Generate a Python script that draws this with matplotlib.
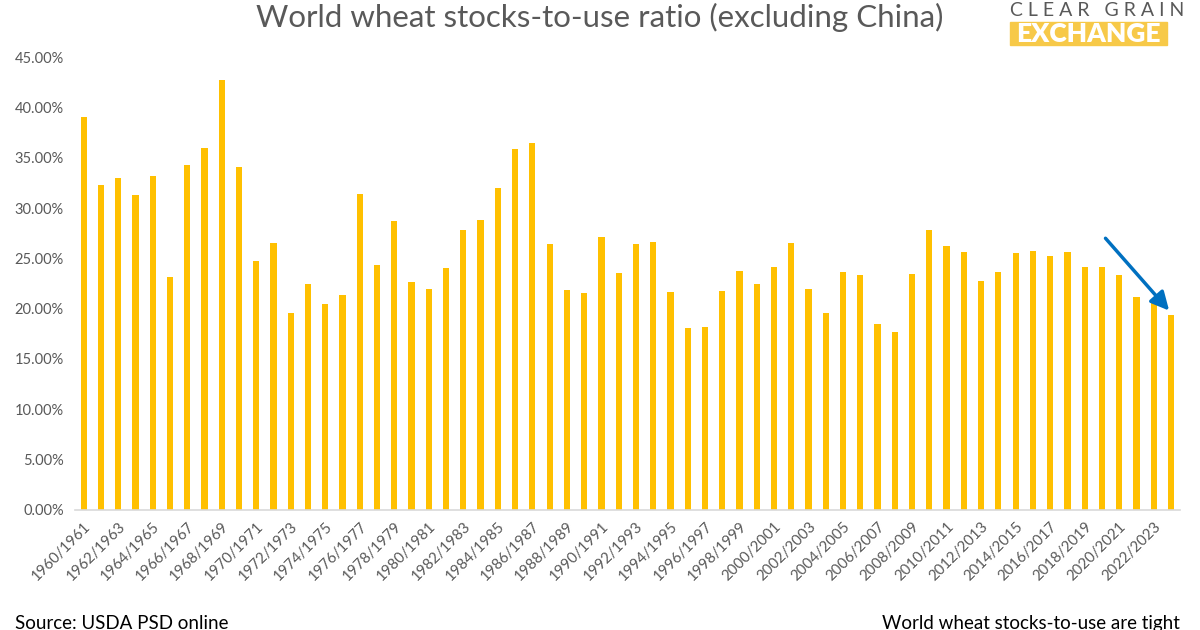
import matplotlib.pyplot as plt
from matplotlib.patches import Rectangle

plt.rcParams['font.family'] = ['Lato', 'DejaVu Sans']

# marketing years 1960/1961 .. 2023/2024
start_years = list(range(1960, 2024))
seasons = [f"{y}/{y + 1}" for y in start_years]

# stocks-to-use ratio, %
ratio = [
    39.0, 32.3, 33.0, 31.3, 33.2, 23.1, 34.3, 36.0, 42.7, 34.1,
    24.7, 26.5, 19.6, 22.5, 20.5, 21.4, 31.4, 24.3, 28.7, 22.6,
    22.0, 24.0, 27.8, 28.8, 32.0, 35.9, 36.5, 26.4, 21.9, 21.6,
    27.1, 23.5, 26.4, 26.6, 21.7, 18.1, 18.2, 21.8, 23.7, 22.5,
    24.1, 26.5, 22.0, 19.6, 23.6, 23.3, 18.5, 17.7, 23.4, 27.8,
    26.2, 25.6, 22.7, 23.6, 25.5, 25.7, 25.2, 25.6, 24.1, 24.1,
    23.3, 21.2, 20.6, 19.4,
]
y_ticks = [0, 5, 10, 15, 20, 25, 30, 35, 40, 45]

grey = '#595959'
fig = plt.figure(figsize=(12, 6.3), dpi=100)
ax = fig.add_axes([0.0625, 0.1905, 0.9205, 0.719])

x = list(range(len(ratio)))
ax.bar(x, ratio, width=0.36, color='#FFC000', zorder=2)

ax.set_xlim(-0.5, len(ratio) - 0.5)
ax.set_ylim(0, 45)
ax.set_yticks(y_ticks)
ax.set_yticklabels([f"{v:.2f}%" for v in y_ticks], fontsize=10.5, color=grey)
ax.set_xticks(x[::2])
ax.set_xticklabels(seasons[::2], rotation=45, ha='right', rotation_mode='anchor',
                   fontsize=10.8, color=grey)
ax.tick_params(length=0, pad=7)
ax.tick_params(axis='y', pad=8)
for s in ['top', 'right', 'left']:
    ax.spines[s].set_visible(False)
ax.spines['bottom'].set_color('#D9D9D9')
ax.spines['bottom'].set_linewidth(1.2)

# arrow pointing at latest season
ax.annotate('', xy=(63.0, 19.6), xytext=(59.1, 27.2),
            arrowprops=dict(arrowstyle='-|>,head_length=1.1,head_width=0.55',
                            color='#0070C0', lw=2.5))

fig.text(0.5, 0.972, 'World wheat stocks-to-use ratio (excluding China)',
         ha='center', va='center', fontsize=22.5, color=grey)

# logo
fig.text(0.8415, 0.984, 'C L E A R   G R A I N', ha='left', va='center',
         fontsize=14, color=grey)
fig.patches.append(Rectangle((0.8415, 0.9286), 0.131, 0.036, transform=fig.transFigure,
                             color='#F7C948', zorder=1))
fig.text(0.907, 0.946, 'EXCHANGE', ha='center', va='center', fontsize=19,
         color='white', fontweight='heavy', zorder=2)

fig.text(0.0125, 0.01, 'Source: USDA PSD online', ha='left', va='center', fontsize=13.5)
fig.text(0.983, 0.01, 'World wheat stocks-to-use are tight', ha='right', va='center',
         fontsize=13.5)

fig.savefig('out.png', dpi=100)
